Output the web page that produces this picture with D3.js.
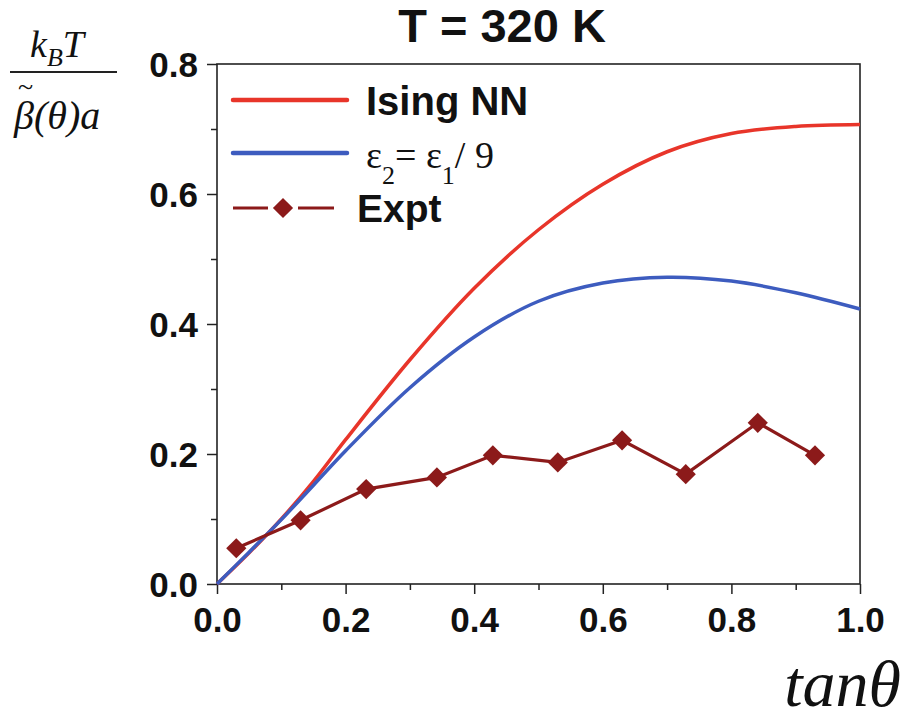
<!DOCTYPE html>
<html>
<head>
<meta charset="utf-8">
<title>T = 320 K stiffness</title>
<script src="https://d3js.org/d3.v7.min.js"></script>
<style>
  body { margin: 0; background: #fff; }
  .axis path { display: none; }
  .axis line { stroke: #222; stroke-width: 1.5; }
  .axis text { font-family: "Liberation Sans", Arial, sans-serif; font-weight: bold; font-size: 35px; fill: #111; }
  .math { font-family: "Liberation Serif", "Times New Roman", serif; fill: #111; }
</style>
</head>
<body>
<div id="chart"></div>
<script>
// x grid for the two model curves
const tanGrid = [0, 0.05, 0.1, 0.15, 0.2, 0.3, 0.4, 0.5, 0.6, 0.7, 0.8, 0.9, 1.0];
const isingNN = [0, 0.048, 0.100, 0.158, 0.222, 0.345, 0.455, 0.545, 0.615, 0.665, 0.693, 0.704, 0.707];
const epsNinth = [0, 0.049, 0.099, 0.152, 0.205, 0.302, 0.380, 0.435, 0.463, 0.472, 0.466, 0.448, 0.423];

// experiment points
const exptX = [0.03, 0.13, 0.232, 0.342, 0.429, 0.53, 0.63, 0.729, 0.841, 0.93];
const exptY = [0.055, 0.098, 0.146, 0.164, 0.198, 0.187, 0.221, 0.169, 0.248, 0.198];

const xTicks = [0, 0.2, 0.4, 0.6, 0.8, 1.0];
const xMinor = [0.1, 0.3, 0.5, 0.7, 0.9];
const yTicks = [0, 0.2, 0.4, 0.6, 0.8];
const yMinor = [0.1, 0.3, 0.5, 0.7];

const W = 909, H = 715;
const plotL = 217, plotR = 860, plotT = 64, plotB = 584;

const svg = d3.select("#chart").append("svg")
    .attr("width", W).attr("height", H);

const x = d3.scaleLinear().domain([0, 1]).range([plotL, plotR]);
const y = d3.scaleLinear().domain([0, 0.8]).range([plotB, plotT]);

// minor ticks
svg.append("g").attr("class", "axis")
    .attr("transform", `translate(0,${plotB})`)
    .call(d3.axisBottom(x).tickValues(xMinor).tickSize(6).tickFormat(""));
svg.append("g").attr("class", "axis")
    .attr("transform", `translate(${plotL},0)`)
    .call(d3.axisLeft(y).tickValues(yMinor).tickSize(6).tickFormat(""));

// major ticks
svg.append("g").attr("class", "axis")
    .attr("transform", `translate(0,${plotB})`)
    .call(d3.axisBottom(x).tickValues(xTicks).tickSize(10).tickPadding(13).tickFormat(d3.format(".1f")));
svg.append("g").attr("class", "axis")
    .attr("transform", `translate(${plotL},0)`)
    .call(d3.axisLeft(y).tickValues(yTicks).tickSize(10).tickPadding(9).tickFormat(d3.format(".1f")))
    .selectAll("text").attr("dy", "0.36em");

// frame
svg.append("rect")
    .attr("x", plotL).attr("y", plotT)
    .attr("width", plotR - plotL).attr("height", plotB - plotT)
    .attr("fill", "none").attr("stroke", "#222").attr("stroke-width", 1.6);

const line = d3.line()
    .x((d, i) => x(tanGrid[i]))
    .y(d => y(d))
    .curve(d3.curveCatmullRom);

svg.append("path").datum(isingNN)
    .attr("d", line).attr("fill", "none")
    .attr("stroke", "#e8352a").attr("stroke-width", 3.5);

svg.append("path").datum(epsNinth)
    .attr("d", line).attr("fill", "none")
    .attr("stroke", "#3d5cbf").attr("stroke-width", 3.5);

// experiment
const expt = exptX.map((v, i) => [v, exptY[i]]);
svg.append("path").datum(expt)
    .attr("d", d3.line().x(d => x(d[0])).y(d => y(d[1])))
    .attr("fill", "none").attr("stroke", "#8c1a1a").attr("stroke-width", 3.2);

const diamond = d3.symbol().type(d3.symbolDiamond2).size(260);
svg.selectAll(".pt").data(expt).enter().append("path")
    .attr("class", "pt")
    .attr("d", diamond)
    .attr("transform", d => `translate(${x(d[0])},${y(d[1])})`)
    .attr("fill", "#8c1a1a");

// legend
const lg = svg.append("g");
lg.append("line").attr("x1", 233).attr("x2", 347).attr("y1", 100).attr("y2", 100)
    .attr("stroke", "#e8352a").attr("stroke-width", 4.5).attr("stroke-linecap", "round");
lg.append("text").attr("x", 366).attr("y", 115)
    .style("font-family", "Liberation Sans, Arial, sans-serif").style("font-weight", "bold")
    .style("font-size", "40px").attr("fill", "#111").text("Ising NN");

lg.append("line").attr("x1", 233).attr("x2", 347).attr("y1", 153).attr("y2", 153)
    .attr("stroke", "#3d5cbf").attr("stroke-width", 4.5).attr("stroke-linecap", "round");
const eq = lg.append("text").attr("class", "math").attr("x", 366).attr("y", 168)
    .style("font-size", "38px");
eq.append("tspan").text("ε");
eq.append("tspan").attr("dy", 16).style("font-size", "26px").text("2");
eq.append("tspan").attr("dy", -16).text("= ε");
eq.append("tspan").attr("dy", 16).style("font-size", "26px").text("1");
eq.append("tspan").attr("dy", -16).text("/ 9");

lg.append("line").attr("x1", 233).attr("x2", 268).attr("y1", 208).attr("y2", 208)
    .attr("stroke", "#8c1a1a").attr("stroke-width", 3.2);
lg.append("line").attr("x1", 298).attr("x2", 334).attr("y1", 208).attr("y2", 208)
    .attr("stroke", "#8c1a1a").attr("stroke-width", 3.2);
lg.append("path").attr("d", diamond).attr("transform", "translate(283,208)").attr("fill", "#8c1a1a");
lg.append("text").attr("x", 357).attr("y", 222)
    .style("font-family", "Liberation Sans, Arial, sans-serif").style("font-weight", "bold")
    .style("font-size", "39px").attr("fill", "#111").text("Expt");

// title
svg.append("text").attr("x", 502).attr("y", 42).attr("text-anchor", "middle")
    .style("font-family", "Liberation Sans, Arial, sans-serif").style("font-weight", "bold")
    .style("font-size", "47px").attr("fill", "#111").text("T = 320 K");

// y label: kB T / beta~(theta) a
const yl = svg.append("g").attr("class", "math").style("font-style", "italic");
const num = yl.append("text").attr("x", 30).attr("y", 57).style("font-size", "38px");
num.append("tspan").text("k");
num.append("tspan").attr("dy", 9).style("font-size", "26px").text("B");
num.append("tspan").attr("dy", -9).text("T");
yl.append("line").attr("x1", 10).attr("x2", 117).attr("y1", 72).attr("y2", 72)
    .attr("stroke", "#222").attr("stroke-width", 2);
yl.append("text").attr("x", 14).attr("y", 129).style("font-size", "40px").text("β(θ)a");
yl.append("text").attr("x", 18).attr("y", 96).style("font-size", "28px").style("font-style", "normal").text("~");

// x label
svg.append("text").attr("class", "math").attr("x", 901).attr("y", 706)
    .attr("text-anchor", "end").style("font-style", "italic").style("font-size", "66px")
    .text("tanθ");
</script>
</body>
</html>
